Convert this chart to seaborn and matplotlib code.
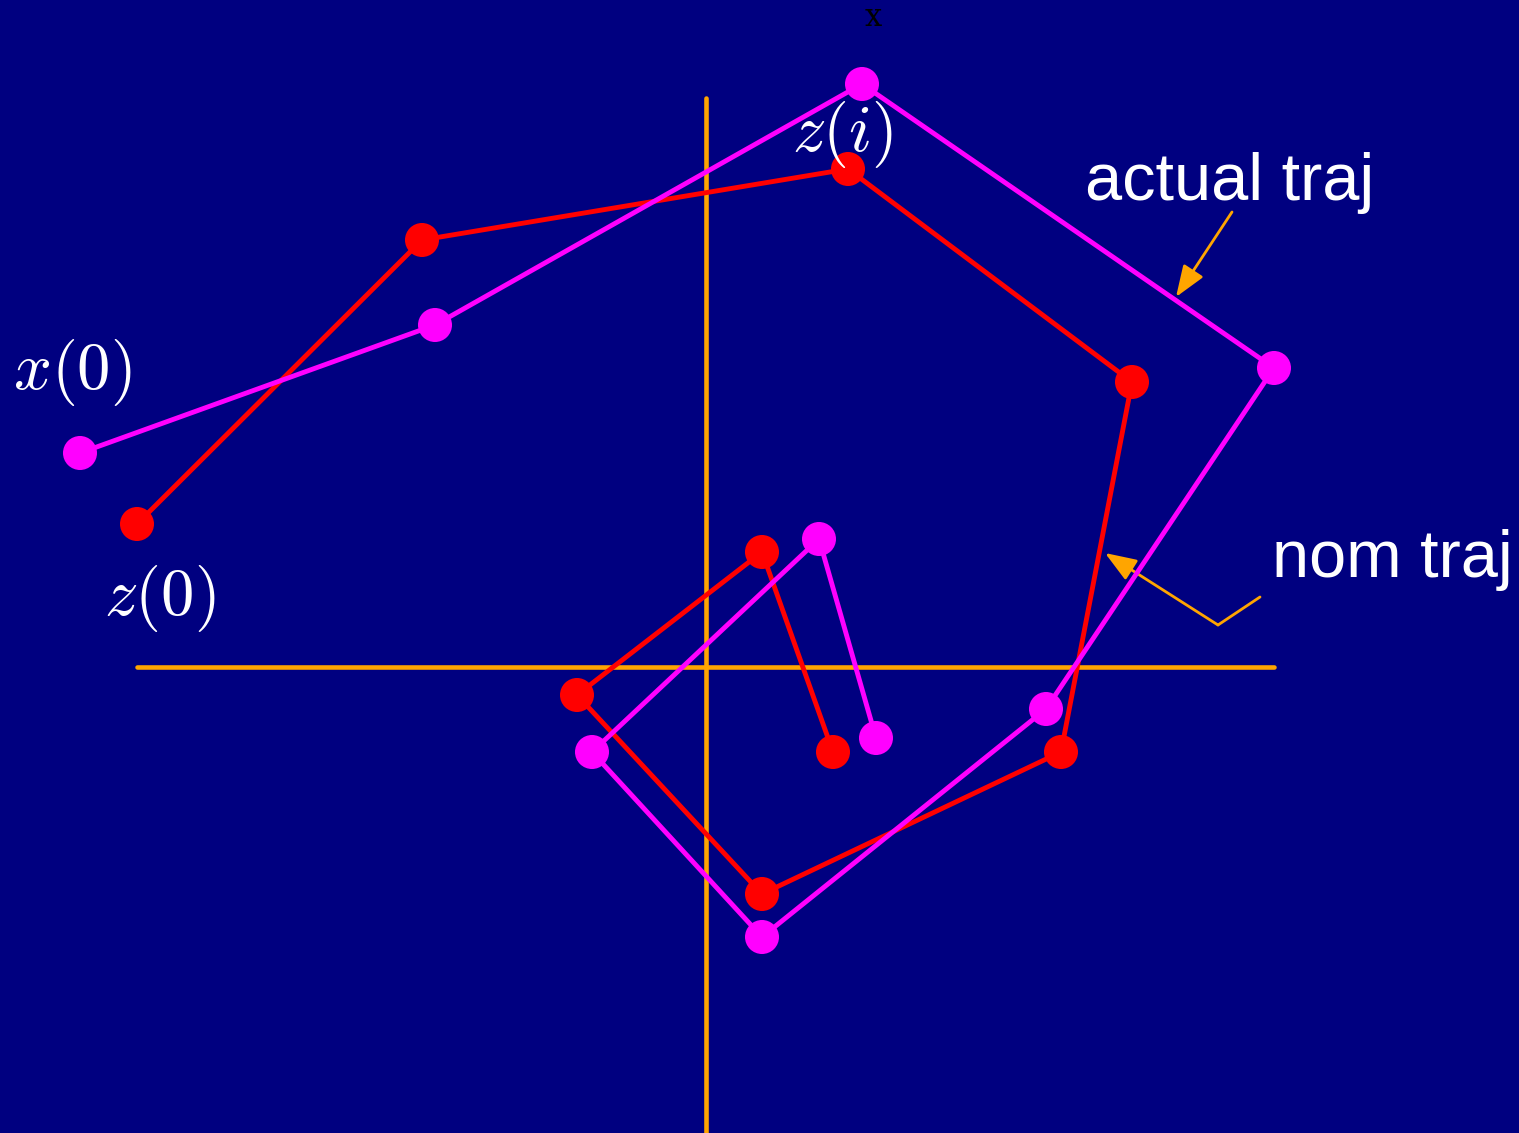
"""
plot.py - actual vs nominal trajectory sketch
"""

import matplotlib

matplotlib.use("Agg")
import matplotlib.pyplot as plt
import seaborn as sns

sns.set_theme(style="white")
plt.rcParams["font.family"] = ["Liberation Sans", "DejaVu Sans"]
plt.rcParams["mathtext.fontset"] = "cm"

NAVY = "#000080"
ORANGE = "#FFA500"
MAGENTA = "#FF00FF"
RED = "#FF0000"

# ========== 数据 ==========
# actual trajectory x(k)
actual_x = [-6.26, -2.71, 1.56, 5.68, 3.40, 0.56, -1.14, 1.13, 1.70]
actual_y = [2.14, 3.42, 5.83, 2.99, -0.42, -2.70, -0.85, 1.28, -0.71]

# nominal trajectory z(k)
nom_x = [-5.69, -2.84, 1.42, 4.26, 3.55, 0.56, -1.29, 0.56, 1.27]
nom_y = [1.43, 4.27, 4.98, 2.85, -0.85, -2.27, -0.28, 1.15, -0.85]

# axis lines
hline_x = [-5.69, 5.68]
vline_y = [-4.66, 5.69]

# ========== 画图 ==========
fig = plt.figure(figsize=(15.19, 11.33), dpi=100)
ax = fig.add_axes([0, 0, 1, 1])
fig.patch.set_facecolor(NAVY)
ax.set_facecolor(NAVY)

ax.plot(hline_x, [0, 0], color=ORANGE, lw=3.3, zorder=1)
ax.plot([0, 0], vline_y, color=ORANGE, lw=3.3, zorder=1)

sns.lineplot(x=nom_x, y=nom_y, sort=False, estimator=None, color=RED,
             lw=3.5, ax=ax, zorder=2)
sns.scatterplot(x=nom_x, y=nom_y, color=RED, s=600, edgecolor="none",
                ax=ax, zorder=3)
sns.lineplot(x=actual_x, y=actual_y, sort=False, estimator=None, color=MAGENTA,
             lw=3.5, ax=ax, zorder=4)
sns.scatterplot(x=actual_x, y=actual_y, color=MAGENTA, s=600, edgecolor="none",
                ax=ax, zorder=5)

# labels
ax.text(-6.34, 2.95, r"$x(0)$", color="white", fontsize=48,
        ha="center", va="center")
ax.text(-5.46, 0.69, r"$z(0)$", color="white", fontsize=48,
        ha="center", va="center")
ax.text(1.37, 5.32, r"$z(i)$", color="white", fontsize=48,
        ha="center", va="center", zorder=6)
ax.text(1.67, 6.49, "x", color="black", fontsize=22, family="serif",
        ha="center", va="center")

ax.text(3.79, 4.67, "actual traj", color="white", fontsize=48)
ax.text(5.66, 0.90, "nom traj", color="white", fontsize=48)

# arrows
head = "-|>,head_length=1.6,head_width=0.6"
ax.annotate("", xy=(4.70, 3.70), xytext=(5.26, 4.55),
            arrowprops=dict(arrowstyle=head, color=ORANGE, lw=2,
                            shrinkA=0, shrinkB=0))
ax.plot([5.54, 5.12], [0.70, 0.42], color=ORANGE, lw=2)
ax.annotate("", xy=(3.99, 1.14), xytext=(5.12, 0.42),
            arrowprops=dict(arrowstyle=head, color=ORANGE, lw=2,
                            shrinkA=0, shrinkB=0))

ax.set_xlim(-7.06, 8.13)
ax.set_ylim(-4.66, 6.67)
ax.axis("off")

plt.savefig("out.png", dpi=100, facecolor=NAVY)
